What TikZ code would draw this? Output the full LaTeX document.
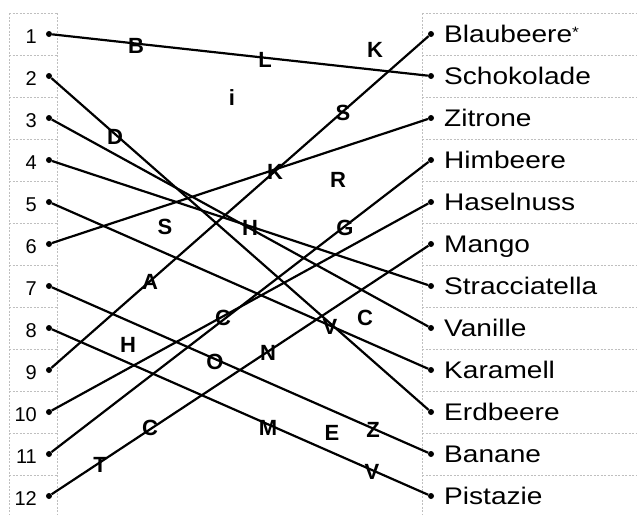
\documentclass[tikz,border=0pt]{standalone}
\usepackage{fontspec}
\setmainfont{Liberation Sans}
\newfontfamily\flavfont[FakeStretch=1.17]{Liberation Sans}
\begin{document}
\begin{tikzpicture}[x=1pt,y=-1pt,
  dot/.style={circle,fill=black,inner sep=0pt,minimum size=6pt},
  num/.style={anchor=base east,inner sep=0pt,font=\fontsize{20}{20}\selectfont},
  flav/.style={anchor=base west,inner sep=0pt,font=\flavfont\fontsize{24}{24}\selectfont},
  tag/.style={inner sep=0pt,font=\bfseries\fontsize{22}{22}\selectfont},
  link/.style={line width=2.2pt},
  grid/.style={gray!50,dash pattern=on 2pt off 1.5pt,line width=0.7pt}]
  \useasboundingbox (0,0) rectangle (637,514);

  % dotted boxes
  \foreach \k in {0,...,12} {
    \draw[grid] (9,{13+42*\k}) -- (57,{13+42*\k});
    \draw[grid] (422,{13+42*\k}) -- (637,{13+42*\k});
  }
  \draw[grid] (9,13) -- (9,514);
  \draw[grid] (57,13) -- (57,514);
  \draw[grid] (422,13) -- (422,514);

  % left column
  \node[dot] (l1) at (49,34) {};   \node[num] (n1) at (37,43) {1};
  \node[dot] (l2) at (49,76) {};   \node[num] (n2) at (37,85) {2};
  \node[dot] (l3) at (49,118) {};  \node[num] (n3) at (37,127) {3};
  \node[dot] (l4) at (49,160) {};  \node[num] (n4) at (37,169) {4};
  \node[dot] (l5) at (49,202) {};  \node[num] (n5) at (37,211) {5};
  \node[dot] (l6) at (49,244) {};  \node[num] (n6) at (37,253) {6};
  \node[dot] (l7) at (49,286) {};  \node[num] (n7) at (37,295) {7};
  \node[dot] (l8) at (49,328) {};  \node[num] (n8) at (37,337) {8};
  \node[dot] (l9) at (49,370) {};  \node[num] (n9) at (37,379) {9};
  \node[dot] (l10) at (49,412) {}; \node[num] (n10) at (37,421) {10};
  \node[dot] (l11) at (49,454) {}; \node[num] (n11) at (37,463) {11};
  \node[dot] (l12) at (49,496) {}; \node[num] (n12) at (37,505) {12};

  % right column
  \node[dot] (r1) at (431,34) {};   \node[flav] (f1) at (444,42.5) {Blaubeere\raisebox{5pt}{\fontsize{15}{15}\selectfont*}};
  \node[dot] (r2) at (431,76) {};   \node[flav] (f2) at (444,84.5) {Schokolade};
  \node[dot] (r3) at (431,118) {};  \node[flav] (f3) at (444,126.5) {Zitrone};
  \node[dot] (r4) at (431,160) {};  \node[flav] (f4) at (444,168.5) {Himbeere};
  \node[dot] (r5) at (431,202) {};  \node[flav] (f5) at (444,210.5) {Haselnuss};
  \node[dot] (r6) at (431,244) {};  \node[flav] (f6) at (444,252.5) {Mango};
  \node[dot] (r7) at (431,286) {};  \node[flav] (f7) at (444,294.5) {Stracciatella};
  \node[dot] (r8) at (431,328) {};  \node[flav] (f8) at (444,336.5) {Vanille};
  \node[dot] (r9) at (431,370) {};  \node[flav] (f9) at (444,378.5) {Karamell};
  \node[dot] (r10) at (431,412) {}; \node[flav] (f10) at (444,420.5) {Erdbeere};
  \node[dot] (r11) at (431,454) {}; \node[flav] (f11) at (444,462.5) {Banane};
  \node[dot] (r12) at (431,496) {}; \node[flav] (f12) at (444,504.5) {Pistazie};

  % connections
  \draw[link] (l1) -- (r2);
  \draw[link] (l2) -- (r10);
  \draw[link] (l3) -- (r8);
  \draw[link] (l4) -- (r7);
  \draw[link] (l5) -- (r9);
  \draw[link] (l6) -- (r3);
  \draw[link] (l7) -- (r11);
  \draw[link] (l8) -- (r12);
  \draw[link] (l9) -- (r1);
  \draw[link] (l10) -- (r5);
  \draw[link] (l11) -- (r4);
  \draw[link] (l12) -- (r6);

  % scattered letters
  \node[tag] (tB) at (136,46) {B};
  \node[tag] (tL) at (265,60) {L};
  \node[tag] (tK1) at (375,50) {K};
  \node[tag] (ti) at (232,98) {i};
  \node[tag] (tS1) at (343,113) {S};
  \node[tag] (tD) at (115,137) {D};
  \node[tag] (tK2) at (275,172) {K};
  \node[tag] (tR) at (338,180) {R};
  \node[tag] (tS2) at (165,227) {S};
  \node[tag] (tH1) at (250,228) {H};
  \node[tag] (tG) at (345,228) {G};
  \node[tag] (tA) at (150,282) {A};
  \node[tag] (tC1) at (223,318) {C};
  \node[tag] (tV1) at (330,327) {V};
  \node[tag] (tC2) at (365,318) {C};
  \node[tag] (tH2) at (128,345) {H};
  \node[tag] (tO) at (215,362) {O};
  \node[tag] (tN) at (268,353) {N};
  \node[tag] (tC3) at (150,428) {C};
  \node[tag] (tT) at (100,465) {T};
  \node[tag] (tM) at (268,428) {M};
  \node[tag] (tE) at (332,433) {E};
  \node[tag] (tZ) at (373,430) {Z};
  \node[tag] (tV2) at (372,472) {V};
\end{tikzpicture}
\end{document}
